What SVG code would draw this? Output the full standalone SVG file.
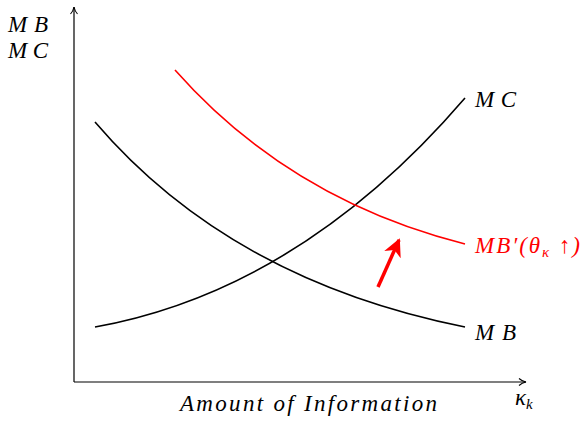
<svg xmlns="http://www.w3.org/2000/svg" width="582" height="422" viewBox="0 0 582 422">
<style>
text{font-family:"Liberation Serif","DejaVu Serif",serif;font-style:italic;font-size:23px;fill:#000}
.red{fill:#ff0000}
.curve{fill:none;stroke-width:1.6}
</style>
<defs>
<marker id="ax" markerWidth="10" markerHeight="10" refX="8" refY="5" orient="auto" markerUnits="userSpaceOnUse">
<path d="M1,1.5 Q4,4.2 8,5 Q4,5.8 1,8.5" fill="none" stroke="#000" stroke-width="1.1"/>
</marker>
<marker id="rh" markerWidth="24" markerHeight="24" refX="16" refY="9" orient="auto" markerUnits="userSpaceOnUse">
<path d="M0,0 L18,9 L0,18 L5,9 Z" fill="#ff0000"/>
</marker>
</defs>
<rect width="582" height="422" fill="#fff"/>
<g id="connectors">
<line x1="378" y1="287" x2="399" y2="240" stroke="#ff0000" stroke-width="3.5" marker-end="url(#rh)"/>
<line x1="74" y1="382" x2="74" y2="7" stroke="#000" stroke-width="1.2" marker-end="url(#ax)"/>
<line x1="74" y1="382" x2="526" y2="382" stroke="#000" stroke-width="1.2" marker-end="url(#ax)"/>
</g>
<g id="MB">
<path class="curve" d="M95,122 Q230,280 465,327" stroke="#000"/>
<text x="475" y="340" textLength="41" lengthAdjust="spacing">MB</text>
</g>
<g id="MC">
<path class="curve" d="M95,327 Q300,290 465,98" stroke="#000"/>
<text x="475" y="107" textLength="41" lengthAdjust="spacing">MC</text>
</g>
<g id="MBprime">
<path class="curve" d="M175,70 Q290,200 465,244" stroke="#ff0000"/>
<text class="red" x="475" y="253" textLength="105" lengthAdjust="spacing">MB′(θ<tspan font-size="15" dy="4">κ</tspan><tspan dy="-4"> ↑)</tspan></text>
</g>
<g id="yaxis-label">
<text x="8" y="32" textLength="40" lengthAdjust="spacing">MB</text>
<text x="8" y="58" textLength="40" lengthAdjust="spacing">MC</text>
</g>
<g id="xaxis-label">
<text x="180" y="411" textLength="257" lengthAdjust="spacing">Amount of Information</text>
<text x="515" y="405">κ<tspan font-size="15" dy="4">k</tspan></text>
</g>
</svg>
